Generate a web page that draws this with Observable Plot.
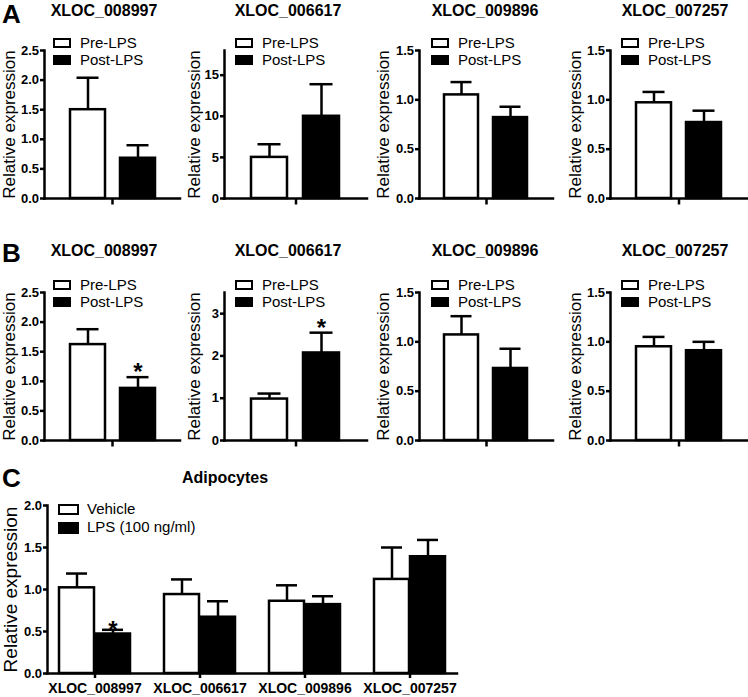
<!DOCTYPE html>
<html><head><meta charset="utf-8">
<script src="https://cdn.jsdelivr.net/npm/d3@7"></script>
<script src="https://cdn.jsdelivr.net/npm/@observablehq/plot@0.6"></script>
<style>
body{margin:0;background:#fff;}
#fig{position:relative;width:748px;height:697px;overflow:hidden;font-family:"Liberation Sans",Arial,sans-serif;color:#000;background:#fff;}
.abs{position:absolute;white-space:nowrap;}
.title{font-weight:bold;font-size:16px;line-height:18px;text-align:center;width:160px;}
.letter{font-weight:bold;font-size:26px;line-height:26px;}
.leg{font-size:15px;line-height:15px;}
.box{position:absolute;box-sizing:border-box;border:2.5px solid #000;}
</style></head>
<body>
<div id="fig"></div>
<script>
// ---------- data ----------
const genes = ["XLOC_008997", "XLOC_006617", "XLOC_009896", "XLOC_007257"];
const groupsAB = ["Pre-LPS", "Post-LPS"];
const groupsC = ["Vehicle", "LPS (100 ng/ml)"];
const yLabel = "Relative expression";
const panelLetters = ["A", "B", "C"];
const titleC = "Adipocytes";

// Panel A
const aPre = [1.50, 5.0, 1.05, 0.97];
const aPreSem = [0.54, 1.6, 0.13, 0.11];
const aPost = [0.68, 10.0, 0.82, 0.77];
const aPostSem = [0.22, 3.9, 0.11, 0.12];
const aSig = [false, false, false, false];
const aYMax = [2.5, 18, 1.5, 1.5];
const aYTicks = [[0, 0.5, 1, 1.5, 2, 2.5], [0, 5, 10, 15], [0, 0.5, 1, 1.5], [0, 0.5, 1, 1.5]];

// Panel B
const bPre = [1.62, 0.98, 1.07, 0.95];
const bPreSem = [0.26, 0.13, 0.19, 0.10];
const bPost = [0.88, 2.07, 0.73, 0.91];
const bPostSem = [0.19, 0.48, 0.20, 0.09];
const bSig = [true, true, false, false];
const bYMax = [2.5, 3.5, 1.5, 1.5];
const bYTicks = [[0, 0.5, 1, 1.5, 2, 2.5], [0, 1, 2, 3], [0, 0.5, 1, 1.5], [0, 0.5, 1, 1.5]];

// Panel C
const cVehicle = [1.02, 0.94, 0.86, 1.12];
const cVehicleSem = [0.17, 0.18, 0.19, 0.38];
const cLPS = [0.47, 0.67, 0.82, 1.39];
const cLPSSem = [0.05, 0.19, 0.10, 0.20];
const cSig = [true, false, false, false];
const cYMax = 2.0;
const cYTicks = [0, 0.5, 1, 1.5, 2];

// ---------- layout ----------
const colLeft = [0, 185, 370, 560];
const axisX = [44, 224, 419, 610];
const axisEnd = [180, 367, 553, 747];
const labelDx = [-35, -30, -36, -35];
const legendX = [53, 235, 431, 621];
const titleCx = [104, 288, 485, 675];
const rowOff = [0, 242];

const fig = document.getElementById("fig");
const FONT = "Liberation Sans, Arial, sans-serif";
const SW = 2.5;
const tickDown = {draw(ctx) { ctx.moveTo(0, 0); ctx.lineTo(0, 6); }};

function addDiv(cls, text, left, top, extra) {
  const d = document.createElement("div");
  d.className = "abs " + cls;
  d.textContent = text;
  d.style.left = left + "px";
  d.style.top = top + "px";
  if (extra) Object.assign(d.style, extra);
  fig.appendChild(d);
  return d;
}
function addBox(left, top, w, h, fill) {
  const d = document.createElement("div");
  d.className = "box";
  Object.assign(d.style, {left: left + "px", top: top + "px", width: w + "px", height: h + "px", background: fill});
  fig.appendChild(d);
}
function place(el, left, top) {
  el.style.position = "absolute";
  el.style.left = left + "px";
  el.style.top = top + "px";
  fig.appendChild(el);
}
function fmtFor(ticks) {
  return ticks.some(t => !Number.isInteger(t)) ? d3.format(".1f") : d3.format("d");
}

function abPanel(r, c, pre, preSem, post, postSem, sig, yMax, yTicks) {
  const rows = [
    {g: groupsAB[0], v: pre[c], e: preSem[c], sig: false},
    {g: groupsAB[1], v: post[c], e: postSem[c], sig: sig[c]}
  ];
  const top = 25 + rowOff[r];
  const W = axisEnd[c] - colLeft[c] + 2;
  const svg = Plot.plot({
    width: W, height: 190,
    marginLeft: axisX[c] - colLeft[c], marginRight: 2, marginTop: 25, marginBottom: 17,
    style: {fontFamily: FONT, background: "transparent", overflow: "visible", color: "black"},
    x: {type: "band", domain: groupsAB, paddingInner: 0.3, paddingOuter: 0.5, axis: null},
    y: {domain: [0, yMax[c]]},
    color: {domain: groupsAB, range: ["white", "black"]},
    marks: [
      Plot.barY(rows, {x: "g", y: "v", fill: "g", stroke: "black", strokeWidth: SW}),
      Plot.ruleX(rows, {x: "g", y1: "v", y2: d => d.v + d.e, stroke: "black", strokeWidth: SW}),
      Plot.tickY(rows, {x: "g", y: d => d.v + d.e, stroke: "black", strokeWidth: SW, insetLeft: 6.5, insetRight: 6.5}),
      Plot.text(rows.filter(d => d.sig), {x: "g", y: d => d.v + d.e, text: () => "*", fontSize: 24, fontWeight: "bold", lineAnchor: "bottom", dy: 3}),
      Plot.frame({anchor: "left", stroke: "black", strokeWidth: SW, strokeLinecap: "square"}),
      Plot.ruleY([0], {stroke: "black", strokeWidth: SW, strokeLinecap: "square"}),
      Plot.dot([0], {frameAnchor: "bottom", symbol: tickDown, stroke: "black", strokeWidth: SW, fill: "none"}),
      Plot.axisY({ticks: yTicks[c], tickFormat: fmtFor(yTicks[c]), tickSize: 4, tickPadding: 1.5, strokeWidth: SW, fontWeight: "bold", fontSize: 13, label: null}),
      Plot.text([yLabel], {frameAnchor: "left", text: d => d, rotate: -90, textAnchor: "middle", lineAnchor: "middle", dx: labelDx[c], fontSize: 17})
    ]
  });
  place(svg, colLeft[c], top);
  // title
  addDiv("title", genes[c], titleCx[c] - 80, 2 + rowOff[r] - (r ? 2 : 0));
  // legend
  const lx = legendX[c], ly = rowOff[r];
  addBox(lx, 37.5 + ly, 18, 10, "white");
  addBox(lx, 54.5 + ly, 18, 10.5, "black");
  addDiv("leg", groupsAB[0], lx + 27, 47.3 + ly - 12.7);
  addDiv("leg", groupsAB[1], lx + 27, 64.3 + ly - 12.7);
}

for (let c = 0; c < 4; c++) abPanel(0, c, aPre, aPreSem, aPost, aPostSem, aSig, aYMax, aYTicks);
for (let c = 0; c < 4; c++) abPanel(1, c, bPre, bPreSem, bPost, bPostSem, bSig, bYMax, bYTicks);

// panel C
const cRows = genes.map((g, i) => ({g, v: cVehicle[i], ve: cVehicleSem[i], l: cLPS[i], le: cLPSSem[i], sig: cSig[i]}));
const half = 36, capIn = 7;
const svgC = Plot.plot({
  width: 460, height: 217,
  marginLeft: 47, marginRight: 3, marginTop: 25, marginBottom: 24,
  style: {fontFamily: FONT, background: "transparent", overflow: "visible", color: "black"},
  x: {type: "band", domain: genes, paddingInner: 0.32, paddingOuter: 0.1},
  y: {domain: [0, cYMax]},
  marks: [
    Plot.barY(cRows, {x: "g", y: "v", fill: "white", stroke: "black", strokeWidth: SW, insetRight: half}),
    Plot.barY(cRows, {x: "g", y: "l", fill: "black", stroke: "black", strokeWidth: SW, insetLeft: half}),
    Plot.ruleX(cRows, {x: "g", y1: "v", y2: d => d.v + d.ve, dx: -half / 2, stroke: "black", strokeWidth: SW}),
    Plot.ruleX(cRows, {x: "g", y1: "l", y2: d => d.l + d.le, dx: half / 2, stroke: "black", strokeWidth: SW}),
    Plot.tickY(cRows, {x: "g", y: d => d.v + d.ve, insetLeft: capIn, insetRight: half + capIn, stroke: "black", strokeWidth: SW}),
    Plot.tickY(cRows, {x: "g", y: d => d.l + d.le, insetLeft: half + capIn, insetRight: capIn, stroke: "black", strokeWidth: SW}),
    Plot.text(cRows.filter(d => d.sig), {x: "g", y: d => d.l + d.le, dx: half / 2, text: () => "*", fontSize: 24, fontWeight: "bold", lineAnchor: "bottom", dy: 8}),
    Plot.frame({anchor: "left", stroke: "black", strokeWidth: SW, strokeLinecap: "square"}),
    Plot.ruleY([0], {stroke: "black", strokeWidth: SW, strokeLinecap: "square"}),
    Plot.axisY({ticks: cYTicks, tickFormat: fmtFor(cYTicks), tickSize: 4, tickPadding: 1.5, strokeWidth: SW, fontWeight: "bold", fontSize: 13, label: null}),
    Plot.axisX({tickSize: 5, tickPadding: 5, strokeWidth: SW, fontWeight: "bold", fontSize: 14, label: null}),
    Plot.text([yLabel], {frameAnchor: "left", text: d => d, rotate: -90, textAnchor: "middle", lineAnchor: "middle", dx: -37, fontSize: 19})
  ]
});
place(svgC, 0, 480);
addDiv("title", titleC, 225 - 80, 468.5);
addBox(58, 504, 21, 11, "white");
addBox(58, 522, 21, 11.5, "black");
addDiv("leg", groupsC[0], 87, 514 - 12.7);
addDiv("leg", groupsC[1], 87, 532 - 12.7);

// panel letters
addDiv("letter", panelLetters[0], 2, 1);
addDiv("letter", panelLetters[1], 2, 240);
addDiv("letter", panelLetters[2], 2, 465);
</script>
</body></html>
